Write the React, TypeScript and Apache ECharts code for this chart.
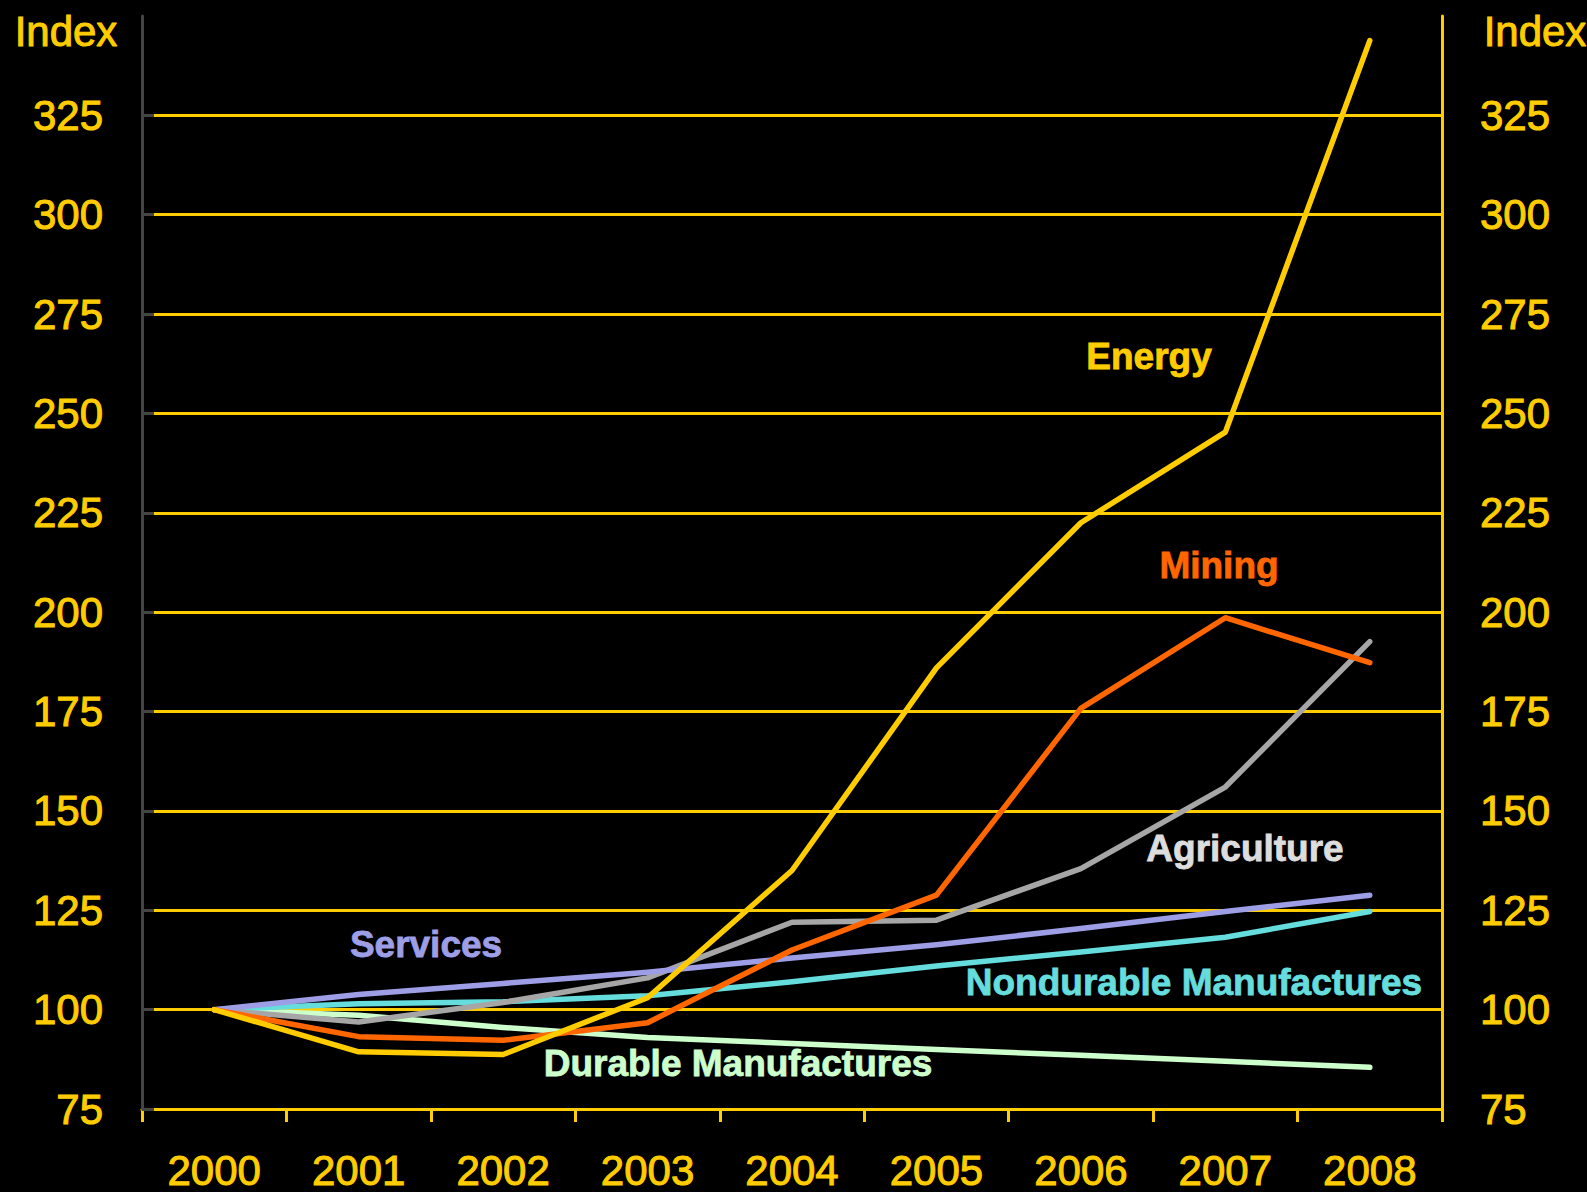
import React, { useEffect, useRef } from "react";
import * as echarts from "echarts";

const years = ["2000", "2001", "2002", "2003", "2004", "2005", "2006", "2007", "2008"];

const energy = [100, 89.4, 88.7, 103, 135, 186, 222.5, 245.3, 343.8];
const mining = [100, 93.2, 92.3, 96.7, 115, 128.8, 175.8, 198.6, 187.3];
const agriculture = [100, 96.9, 101.8, 108, 122, 122.5, 135.5, 156, 192.6];
const services = [100, 103.8, 106.6, 109.4, 113, 116.3, 120.4, 124.7, 128.8];
const nondurable = [100, 101.5, 102, 103.5, 107, 111, 114.5, 118.2, 124.7];
const durable = [100, 98.6, 95.5, 93, 91.5, 90, 88.5, 87, 85.5];

const yMin = 75;
const yMax = 350;
const yStep = 25;

const GOLD = "#FFCC00";
const FONT = "'Liberation Sans', Arial, sans-serif";

const seriesDefs = [
  { name: "Durable Manufactures", data: durable, color: "#CCFFCC", label: "#CCFFCC", lx: 738, ly: 1063 },
  { name: "Nondurable Manufactures", data: nondurable, color: "#66DDDD", label: "#66DDDD", lx: 1194, ly: 982 },
  { name: "Agriculture", data: agriculture, color: "#A6A6A6", label: "#DDDDDD", lx: 1245, ly: 848 },
  { name: "Services", data: services, color: "#9E9EE6", label: "#9E9EE6", lx: 426, ly: 944 },
  { name: "Mining", data: mining, color: "#FF6600", label: "#FF6600", lx: 1219, ly: 565 },
  { name: "Energy", data: energy, color: GOLD, label: GOLD, lx: 1149, ly: 356 },
];

export default function App() {
  const ref = useRef<HTMLDivElement>(null);

  useEffect(() => {
    document.body.style.margin = "0";
    document.body.style.background = "#000";
    const chart = echarts.init(ref.current!, null, { renderer: "svg" });

    const labelText = {
      color: GOLD,
      fontFamily: FONT,
      fontSize: 42,
      textBorderColor: GOLD,
      textBorderWidth: 1,
    };

    chart.setOption({
      animation: false,
      backgroundColor: "#000000",
      grid: { left: 142, right: 145, top: 16, bottom: 83 },
      xAxis: {
        type: "category",
        data: years,
        boundaryGap: true,
        axisLine: { lineStyle: { color: GOLD, width: 3 } },
        axisTick: { show: true, length: 13, lineStyle: { color: GOLD, width: 3 } },
        axisLabel: { ...labelText, margin: 40 },
        splitLine: { show: false },
      },
      yAxis: [
        {
          type: "value",
          position: "left",
          min: yMin,
          max: yMax,
          interval: yStep,
          z: 3,
          axisLine: { show: true, lineStyle: { color: "#444444", width: 3 } },
          axisTick: { show: true, inside: true, length: 12, lineStyle: { color: "#444444", width: 3 } },
          axisLabel: { ...labelText, margin: 39, showMaxLabel: false },
          splitLine: { show: false },
        },
        {
          type: "value",
          position: "right",
          min: yMin,
          max: yMax,
          interval: yStep,
          z: 0,
          axisLine: { show: true, lineStyle: { color: GOLD, width: 3 } },
          axisTick: { show: false },
          axisLabel: { ...labelText, margin: 38, showMaxLabel: false },
          splitLine: {
            show: true,
            showMaxLine: false,
            showMinLine: false,
            lineStyle: { color: GOLD, width: 3 },
          },
        },
      ],
      series: seriesDefs.map((s) => ({
        name: s.name,
        type: "line",
        data: s.data,
        yAxisIndex: 0,
        symbol: "none",
        z: 2,
        lineStyle: { color: s.color, width: 5.5, cap: "round", join: "round" },
      })),
      graphic: [
        {
          type: "text",
          x: 66,
          y: 31,
          style: {
            text: "Index",
            fill: GOLD,
            stroke: GOLD,
            lineWidth: 1,
            font: `42px ${FONT}`,
            align: "center",
            verticalAlign: "middle",
          },
        },
        {
          type: "text",
          x: 1535,
          y: 31,
          style: {
            text: "Index",
            fill: GOLD,
            stroke: GOLD,
            lineWidth: 1,
            font: `42px ${FONT}`,
            align: "center",
            verticalAlign: "middle",
          },
        },
        ...seriesDefs.map((s) => ({
          type: "text",
          x: s.lx,
          y: s.ly,
          z: 10,
          style: {
            text: s.name,
            fill: s.label,
            stroke: s.label,
            lineWidth: 0.8,
            font: `bold 37px ${FONT}`,
            align: "center",
            verticalAlign: "middle",
          },
        })),
      ],
    });

    return () => chart.dispose();
  }, []);

  return <div ref={ref} style={{ width: 1587, height: 1192 }} />;
}
